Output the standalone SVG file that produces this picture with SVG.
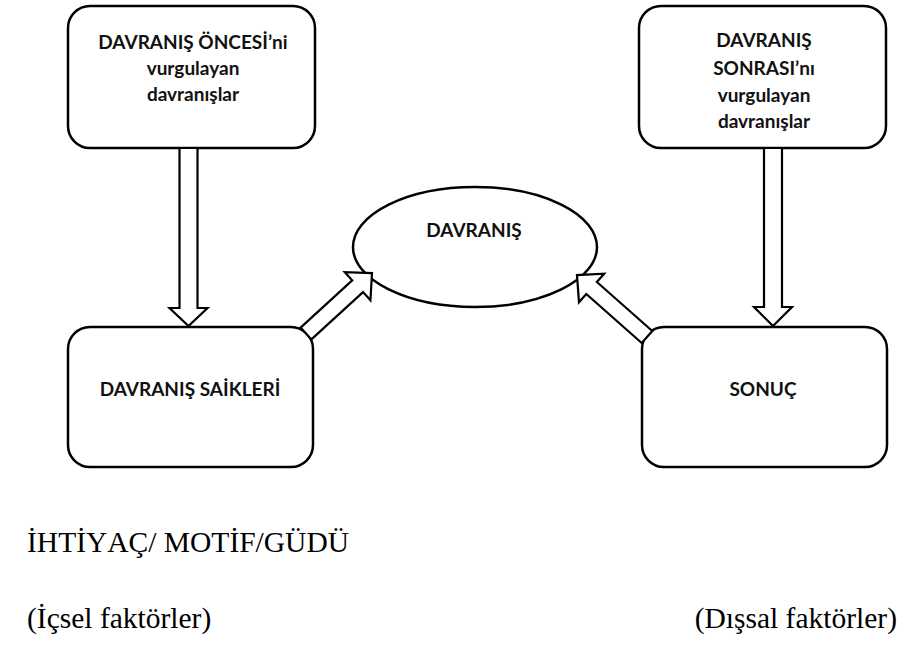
<svg xmlns="http://www.w3.org/2000/svg" width="904" height="645" viewBox="0 0 904 645">
<style>
.box{fill:#fff;stroke:#000;stroke-width:2.5}
.lbl{font-family:Lato,"Open Sans","Liberation Sans",sans-serif;font-weight:bold;font-size:19px;fill:#111;text-anchor:middle}
.arr{fill:#fff;stroke:#000;stroke-width:2.2;stroke-linejoin:miter}
.plain{font-family:"Liberation Serif","Times New Roman",serif;font-size:29.5px;fill:#000;font-kerning:none}
</style>
<rect width="904" height="645" fill="#fff"/>
<g id="n-oncesi">
<rect class="box" x="68" y="6" width="247" height="142" rx="22"/>
<text class="lbl" x="193" y="49">DAVRANIŞ ÖNCESİ’ni</text>
<text class="lbl" x="193" y="75">vurgulayan</text>
<text class="lbl" x="193" y="101">davranışlar</text>
</g>
<g id="n-sonrasi">
<rect class="box" x="639" y="6" width="247" height="142" rx="22"/>
<text class="lbl" x="764" y="47">DAVRANIŞ</text>
<text class="lbl" x="764" y="75">SONRASI’nı</text>
<text class="lbl" x="764" y="102">vurgulayan</text>
<text class="lbl" x="764" y="128">davranışlar</text>
</g>
<g id="n-davranis">
<ellipse class="box" cx="475" cy="247" rx="122" ry="60"/>
<text class="lbl" x="474" y="237">DAVRANIŞ</text>
</g>
<g id="n-saikler">
<rect class="box" x="68" y="327" width="245" height="140" rx="22"/>
<text class="lbl" x="190" y="396">DAVRANIŞ SAİKLERİ</text>
</g>
<g id="n-sonuc">
<rect class="box" x="642" y="327" width="245" height="140" rx="22"/>
<text class="lbl" x="763" y="396">SONUÇ</text>
</g>
<g id="connectors">
<polygon class="arr" points="179.5,148 179.5,308 169.5,308 188.5,326 207.5,308 197.5,308 197.5,148"/>
<polygon class="arr" points="764,148 764,307 754,307 773,326 792,307 782,307 782,148"/>
<polygon class="arr" transform="translate(306,333.5) rotate(-42.5)" points="0,-8 70,-8 70,-19 89.5,0 70,19 70,8 0,8"/>
<polygon class="arr" transform="translate(647,337) rotate(-138.5)" points="0,-8 74,-8 74,-19 93.5,0 74,19 74,8 0,8"/>
</g>
<g id="notes">
<text class="plain" x="27" y="552">İHTİYAÇ/ MOTİF/GÜDÜ</text>
<text class="plain" x="27" y="628">(İçsel faktörler)</text>
<text class="plain" x="897" y="628" text-anchor="end">(Dışsal faktörler)</text>
</g>
</svg>
